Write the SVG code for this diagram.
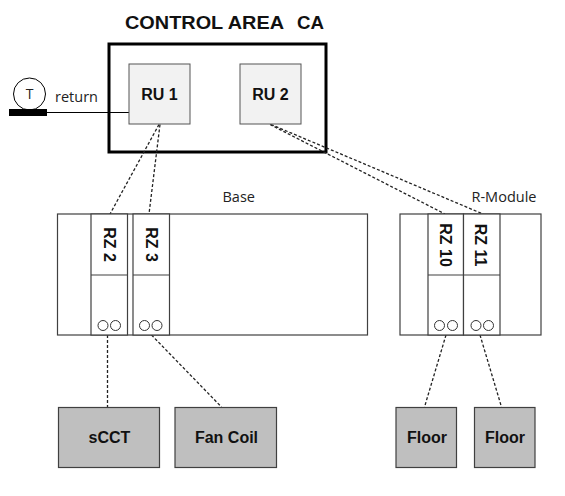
<svg xmlns="http://www.w3.org/2000/svg" width="565" height="496" viewBox="0 0 565 496">
<style>
.ru{fill:#f2f2f2;stroke:#555;stroke-width:1}
.mod{fill:#fff;stroke:#404040;stroke-width:1.2}
.dev{fill:#bfbfbf;stroke:#404040;stroke-width:1.2}
.b{font-family:"Liberation Sans",Arial,sans-serif;font-weight:bold;fill:#111}
.r{font-family:"Open Sans","Liberation Sans",sans-serif;fill:#222}
.dot{fill:none;stroke:#222;stroke-width:1.3;stroke-dasharray:3 2}
.c{fill:#fff;stroke:#333;stroke-width:1}
.rz{font-size:14}
.lbl{font-size:17;text-anchor:middle}
</style>
<rect width="565" height="496" fill="#fff"/>
<text class="b" x="125" y="28.5" font-size="17.5" textLength="159" lengthAdjust="spacingAndGlyphs">CONTROL AREA</text>
<text class="b" x="297" y="28.5" font-size="17.5" textLength="27" lengthAdjust="spacingAndGlyphs">CA</text>
<g id="control-area"><rect x="109" y="44" width="217" height="108" fill="none" stroke="#000" stroke-width="3"/></g>
<g id="sensor">
<circle cx="29.5" cy="94" r="16" fill="#fff" stroke="#000" stroke-width="1"/>
<text class="r" x="29.5" y="99" font-size="14" text-anchor="middle">T</text>
<rect x="9" y="109" width="38" height="7" fill="#000"/>
<text class="r" x="55" y="101.5" font-size="14.5">return</text>
</g>
<g id="connectors">
<line x1="47" y1="112.5" x2="129" y2="112.5" stroke="#000" stroke-width="1"/>
<line class="dot" x1="159" y1="124.5" x2="110" y2="214"/>
<line class="dot" x1="160" y1="124.5" x2="149" y2="214"/>
<line class="dot" x1="270" y1="124.5" x2="445" y2="214"/>
<line class="dot" x1="271" y1="124.5" x2="483" y2="214"/>
<line class="dot" x1="107.5" y1="335" x2="107.5" y2="407"/>
<line class="dot" x1="151.5" y1="335" x2="221.5" y2="407"/>
<line class="dot" x1="446" y1="335" x2="424.5" y2="407"/>
<line class="dot" x1="480" y1="335" x2="501.5" y2="407"/>
</g>
<g id="RU1"><rect class="ru" x="129" y="64" width="61" height="60"/><text class="b lbl" x="159.5" y="100">RU 1</text></g>
<g id="RU2"><rect class="ru" x="240" y="64" width="61" height="60"/><text class="b lbl" x="270.5" y="100">RU 2</text></g>
<g id="base">
<text class="r" x="222.5" y="201.5" font-size="14.5">Base</text>
<rect class="mod" x="57.5" y="214" width="310" height="121"/>
</g>
<g id="RZ2">
<rect class="mod" x="91" y="214" width="36.5" height="121"/>
<line x1="91" y1="275" x2="127.5" y2="275" stroke="#404040" stroke-width="1.2"/>
<circle class="c" cx="103" cy="325.5" r="5"/><circle class="c" cx="115.5" cy="325.5" r="5"/>
<text class="b rz" transform="translate(103.5 244.5) rotate(90)" text-anchor="middle">RZ 2</text>
</g>
<g id="RZ3">
<rect class="mod" x="133" y="214" width="36.5" height="121"/>
<line x1="133" y1="275" x2="169.5" y2="275" stroke="#404040" stroke-width="1.2"/>
<circle class="c" cx="144.5" cy="325.5" r="5"/><circle class="c" cx="157" cy="325.5" r="5"/>
<text class="b rz" transform="translate(145.5 244.5) rotate(90)" text-anchor="middle">RZ 3</text>
</g>
<g id="r-module">
<text class="r" x="471.5" y="201.5" font-size="14.5">R-Module</text>
<rect class="mod" x="400" y="214" width="141" height="121"/>
</g>
<g id="RZ10">
<rect class="mod" x="428" y="214" width="35.5" height="121"/>
<line x1="428" y1="275" x2="463.5" y2="275" stroke="#404040" stroke-width="1.2"/>
<circle class="c" cx="439.5" cy="325.5" r="5"/><circle class="c" cx="452.5" cy="325.5" r="5"/>
<text class="b rz" transform="translate(439.5 245) rotate(90)" text-anchor="middle">RZ 10</text>
</g>
<g id="RZ11">
<rect class="mod" x="463.5" y="214" width="36.5" height="121"/>
<line x1="463.5" y1="275" x2="500" y2="275" stroke="#404040" stroke-width="1.2"/>
<circle class="c" cx="476" cy="325.5" r="5"/><circle class="c" cx="488.5" cy="325.5" r="5"/>
<text class="b rz" transform="translate(474.5 245) rotate(90)" text-anchor="middle">RZ 11</text>
</g>
<g id="sCCT"><rect class="dev" x="58.5" y="407.5" width="101" height="60"/><text class="b lbl" x="109.5" y="443">sCCT</text></g>
<g id="fan-coil"><rect class="dev" x="175" y="407.5" width="101.5" height="60"/><text class="b lbl" x="226.5" y="443">Fan Coil</text></g>
<g id="floor1"><rect class="dev" x="396" y="407.5" width="60.5" height="60"/><text class="b lbl" x="427" y="443">Floor</text></g>
<g id="floor2"><rect class="dev" x="474.5" y="407.5" width="60.5" height="60"/><text class="b lbl" x="505" y="443">Floor</text></g>
</svg>
